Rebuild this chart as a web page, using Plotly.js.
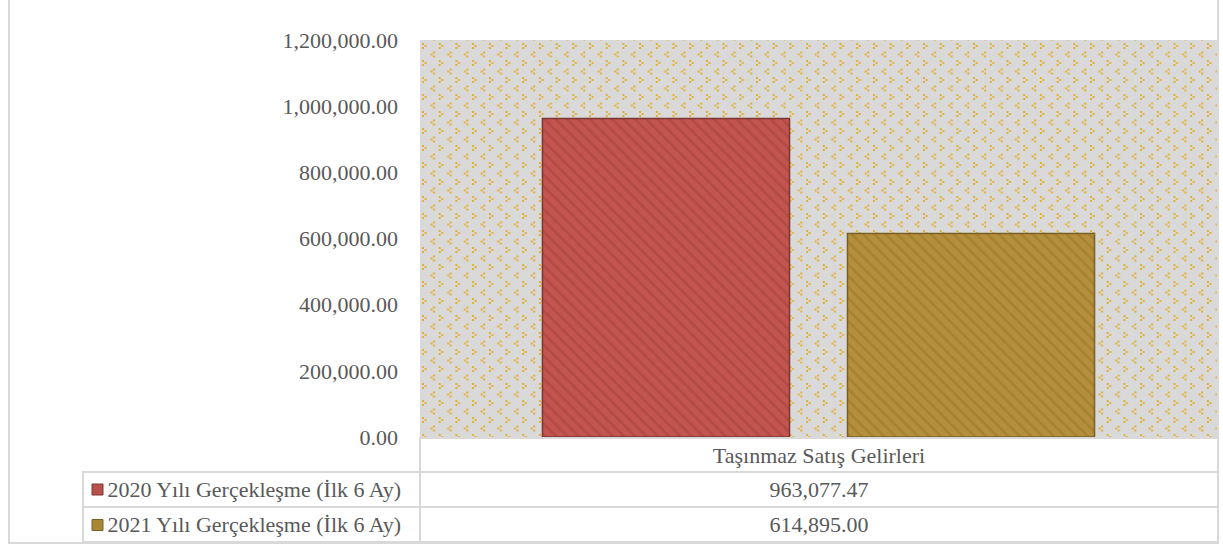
<!DOCTYPE html>
<html>
<head>
<meta charset="utf-8">
<script src="https://cdn.plot.ly/plotly-3.0.1.min.js"></script>
<style>html,body{margin:0;padding:0;background:#fff;}#chart{width:1223px;height:546px;}</style>
</head>
<body>
<div id="chart"></div>
<script>
// ---- data ----
const categories = ['Taşınmaz Satış Gelirleri'];
const seriesNames = ['2020 Yılı Gerçekleşme (İlk 6 Ay)', '2021 Yılı Gerçekleşme (İlk 6 Ay)'];
const values2020 = [963077.47];
const values2021 = [614895.00];
const yTickVals = [0, 200000, 400000, 600000, 800000, 1000000, 1200000];

// ---- styles ----
const W = 1223, H = 546;
const FONT = 'Liberation Serif, Times New Roman, serif';
const TXT = '#595959';
const FS = 22;
const colors = {
  fill: ['#c4544f', '#b68f3e'],
  stripe: ['#b34b46', '#a6832f'],
  edge: ['#7e3532', '#7a6026'],
  key: ['#b8504b', '#a98734']
};

// background pattern of plot area
const svgBg = "<svg xmlns='http://www.w3.org/2000/svg' width='797' height='397'>" +
  "<defs><pattern id='p' x='2' y='3' width='16.7' height='17' patternUnits='userSpaceOnUse'>" +
  "<rect x='0' y='0' width='2' height='2' fill='#e4b033'/>" +
  "<rect x='2.5' y='2' width='2' height='2' fill='#e4b033'/>" +
  "<rect x='0' y='4' width='2' height='2' fill='#e4b033'/>" +
  "<rect x='11' y='8.5' width='2' height='2' fill='#e4b033'/>" +
  "<rect x='8.5' y='10.5' width='2' height='2' fill='#e4b033'/>" +
  "<rect x='11' y='12.5' width='2' height='2' fill='#e4b033'/>" +
  "</pattern></defs>" +
  "<rect width='797' height='397' fill='#d9d9d9'/>" +
  "<rect width='797' height='397' fill='url(#p)'/></svg>";
const bgSrc = 'data:image/svg+xml;charset=utf-8,' + encodeURIComponent(svgBg);

const seriesVals = [values2020, values2021];
const traces = seriesVals.map((vals, i) => ({
  type: 'bar',
  x: categories,
  y: vals,
  name: seriesNames[i],
  marker: {
    color: colors.fill[i],
    line: {color: colors.edge[i], width: 1.5},
    pattern: {shape: '\\', fillmode: 'replace', bgcolor: colors.fill[i], fgcolor: colors.stripe[i], size: 8, solidity: 0.35}
  },
  hoverinfo: 'none',
  showlegend: false
}));

const fmt = v => v.toLocaleString('en-US', {minimumFractionDigits: 2, maximumFractionDigits: 2});
const NB = '\u00A0\u00A0\u00A0';
const keyLabels = seriesNames.map(n => NB + n);

traces.push({
  type: 'table',
  domain: {x: [83 / W, 1218 / W], y: [3 / H, 108 / H]},
  columnwidth: [337, 798],
  header: {
    values: ['', categories[0]],
    height: 34,
    align: ['left', 'center'],
    line: {color: ['rgba(0,0,0,0)', '#d9d9d9'], width: 2},
    fill: {color: 'rgba(0,0,0,0)'},
    font: {family: FONT, size: FS, color: TXT}
  },
  cells: {
    values: [keyLabels, seriesVals.map(v => fmt(v[0]))],
    height: 35,
    align: ['left', 'center'],
    line: {color: '#d9d9d9', width: 2},
    fill: {color: 'white'},
    font: {family: FONT, size: FS, color: TXT}
  }
});

// legend keys inside the table's first column (decorative squares)
const rowCenters = [489.5, 525];
const keyShapes = seriesNames.map((n, i) => ({
  type: 'rect', xref: 'paper', yref: 'paper', layer: 'above',
  x0: 92 / W, x1: 103 / W,
  y0: 1 - (rowCenters[i] + 5.5) / H, y1: 1 - (rowCenters[i] - 5.5) / H,
  fillcolor: colors.key[i],
  line: {color: colors.edge[i], width: 1}
}));

const layout = {
  width: W, height: H,
  margin: {l: 0, r: 0, t: 0, b: 0},
  paper_bgcolor: 'white',
  plot_bgcolor: 'rgba(0,0,0,0)',
  barmode: 'group',
  bargap: 0.2346,
  bargroupgap: 0.19,
  showlegend: false,
  font: {family: FONT, color: TXT, size: FS},
  xaxis: {
    domain: [420 / W, 1217 / W],
    type: 'category',
    showticklabels: false,
    showgrid: false, zeroline: false, showline: false, ticks: ''
  },
  yaxis: {
    domain: [109 / H, 506 / H],
    range: [0, 1200000],
    tickvals: yTickVals,
    tickformat: ',.2f',
    showgrid: false, zeroline: false, showline: false, ticks: '',
    ticklabelstandoff: 21,
    tickfont: {family: FONT, size: FS, color: TXT},
    automargin: false
  },
  images: [{
    source: bgSrc, xref: 'paper', yref: 'paper',
    x: 420 / W, y: 506 / H, sizex: 797 / W, sizey: 397 / H,
    xanchor: 'left', yanchor: 'top', sizing: 'stretch', layer: 'below'
  }],
  shapes: [{
    type: 'rect', xref: 'paper', yref: 'paper',
    x0: 9 / W, x1: 1218 / W, y0: 3 / H, y1: 1.05,
    line: {color: '#d9d9d9', width: 2}
  }].concat(keyShapes)
};

Plotly.newPlot('chart', traces, layout, {staticPlot: true, displayModeBar: false});
</script>
</body>
</html>
